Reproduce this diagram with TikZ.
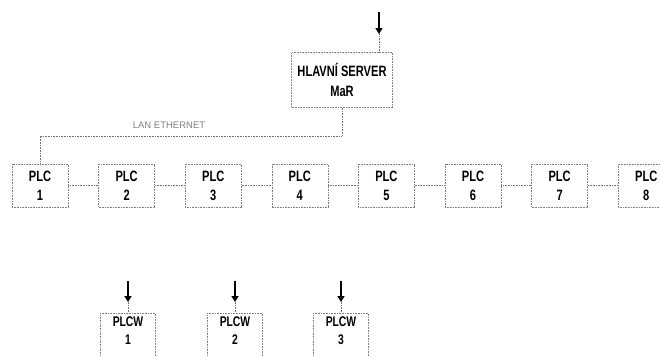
\documentclass[tikz,border=0pt]{standalone}
\usepackage{fontspec}
\newfontfamily\plcfont[FakeStretch=0.74]{Liberation Sans}
\newfontfamily\lanfont{Liberation Sans}
\usepackage{tikz}
\usetikzlibrary{arrows.meta,positioning}

\begin{document}
\begin{tikzpicture}[
    x=1pt, y=-1pt,
    node distance=30pt,
    box/.style={rectangle, draw=black!50, densely dotted, line width=0.6pt, align=center, inner sep=0pt, font=\plcfont\bfseries\fontsize{15}{19}\selectfont},
    srv/.style={box, minimum width=101pt, minimum height=55pt, font=\plcfont\bfseries\fontsize{15}{20}\selectfont},
    plc/.style={box, minimum width=56pt, minimum height=43pt},
    plcw/.style={box, minimum width=55pt, minimum height=50pt, anchor=north, text depth=16pt, font=\plcfont\bfseries\fontsize{14}{18}\selectfont},
    link/.style={draw=black!55, densely dotted, line width=0.6pt},
    feed/.style={line width=2.6pt, -{Triangle[width=7pt,length=6pt]}},
    lan/.style={font=\lanfont\fontsize{9.5}{11}\selectfont, text=black!50}
]
    \useasboundingbox (0,0) rectangle (660,356);

    % main server
    \node [srv] (srv) at (342,80) {HLAVNÍ SERVER\\MaR};
    \coordinate (in0) at (379,12);
    \draw [link] (in0) -- (in0 |- srv.north);
    \draw [feed] (in0) -- ++(0,22);

    % PLC row
    \node [plc] (plc1) at (40,185.5) {PLC\\1};
    \node [plc, right=of plc1] (plc2) {PLC\\2};
    \node [plc, right=of plc2] (plc3) {PLC\\3};
    \node [plc, right=of plc3] (plc4) {PLC\\4};
    \node [plc, right=of plc4] (plc5) {PLC\\5};
    \node [plc, right=of plc5] (plc6) {PLC\\6};
    \node [plc, right=of plc6] (plc7) {PLC\\7};
    \node [plc, right=of plc7] (plc8) {PLC\\8};

    \draw [link] (srv.south) -- ++(0,28) -| (plc1.north);
    \node [lan] (lan) at (169,125) {LAN ETHERNET};

    \draw [link] (plc1) -- (plc2);
    \draw [link] (plc2) -- (plc3);
    \draw [link] (plc3) -- (plc4);
    \draw [link] (plc4) -- (plc5);
    \draw [link] (plc5) -- (plc6);
    \draw [link] (plc6) -- (plc7);
    \draw [link] (plc7) -- (plc8);

    % PLCW
    \node [plcw] (w1) at (128,313) {PLCW\\1};
    \node [plcw] (w2) at (235,313) {PLCW\\2};
    \node [plcw] (w3) at (341,313) {PLCW\\3};

    \coordinate (f1) at (128,281);
    \coordinate (f2) at (235,281);
    \coordinate (f3) at (341,281);
    \draw [link] (f1) -- (w1.north);
    \draw [link] (f2) -- (w2.north);
    \draw [link] (f3) -- (w3.north);
    \draw [feed] (f1) -- ++(0,21);
    \draw [feed] (f2) -- ++(0,21);
    \draw [feed] (f3) -- ++(0,21);
\end{tikzpicture}
\end{document}
